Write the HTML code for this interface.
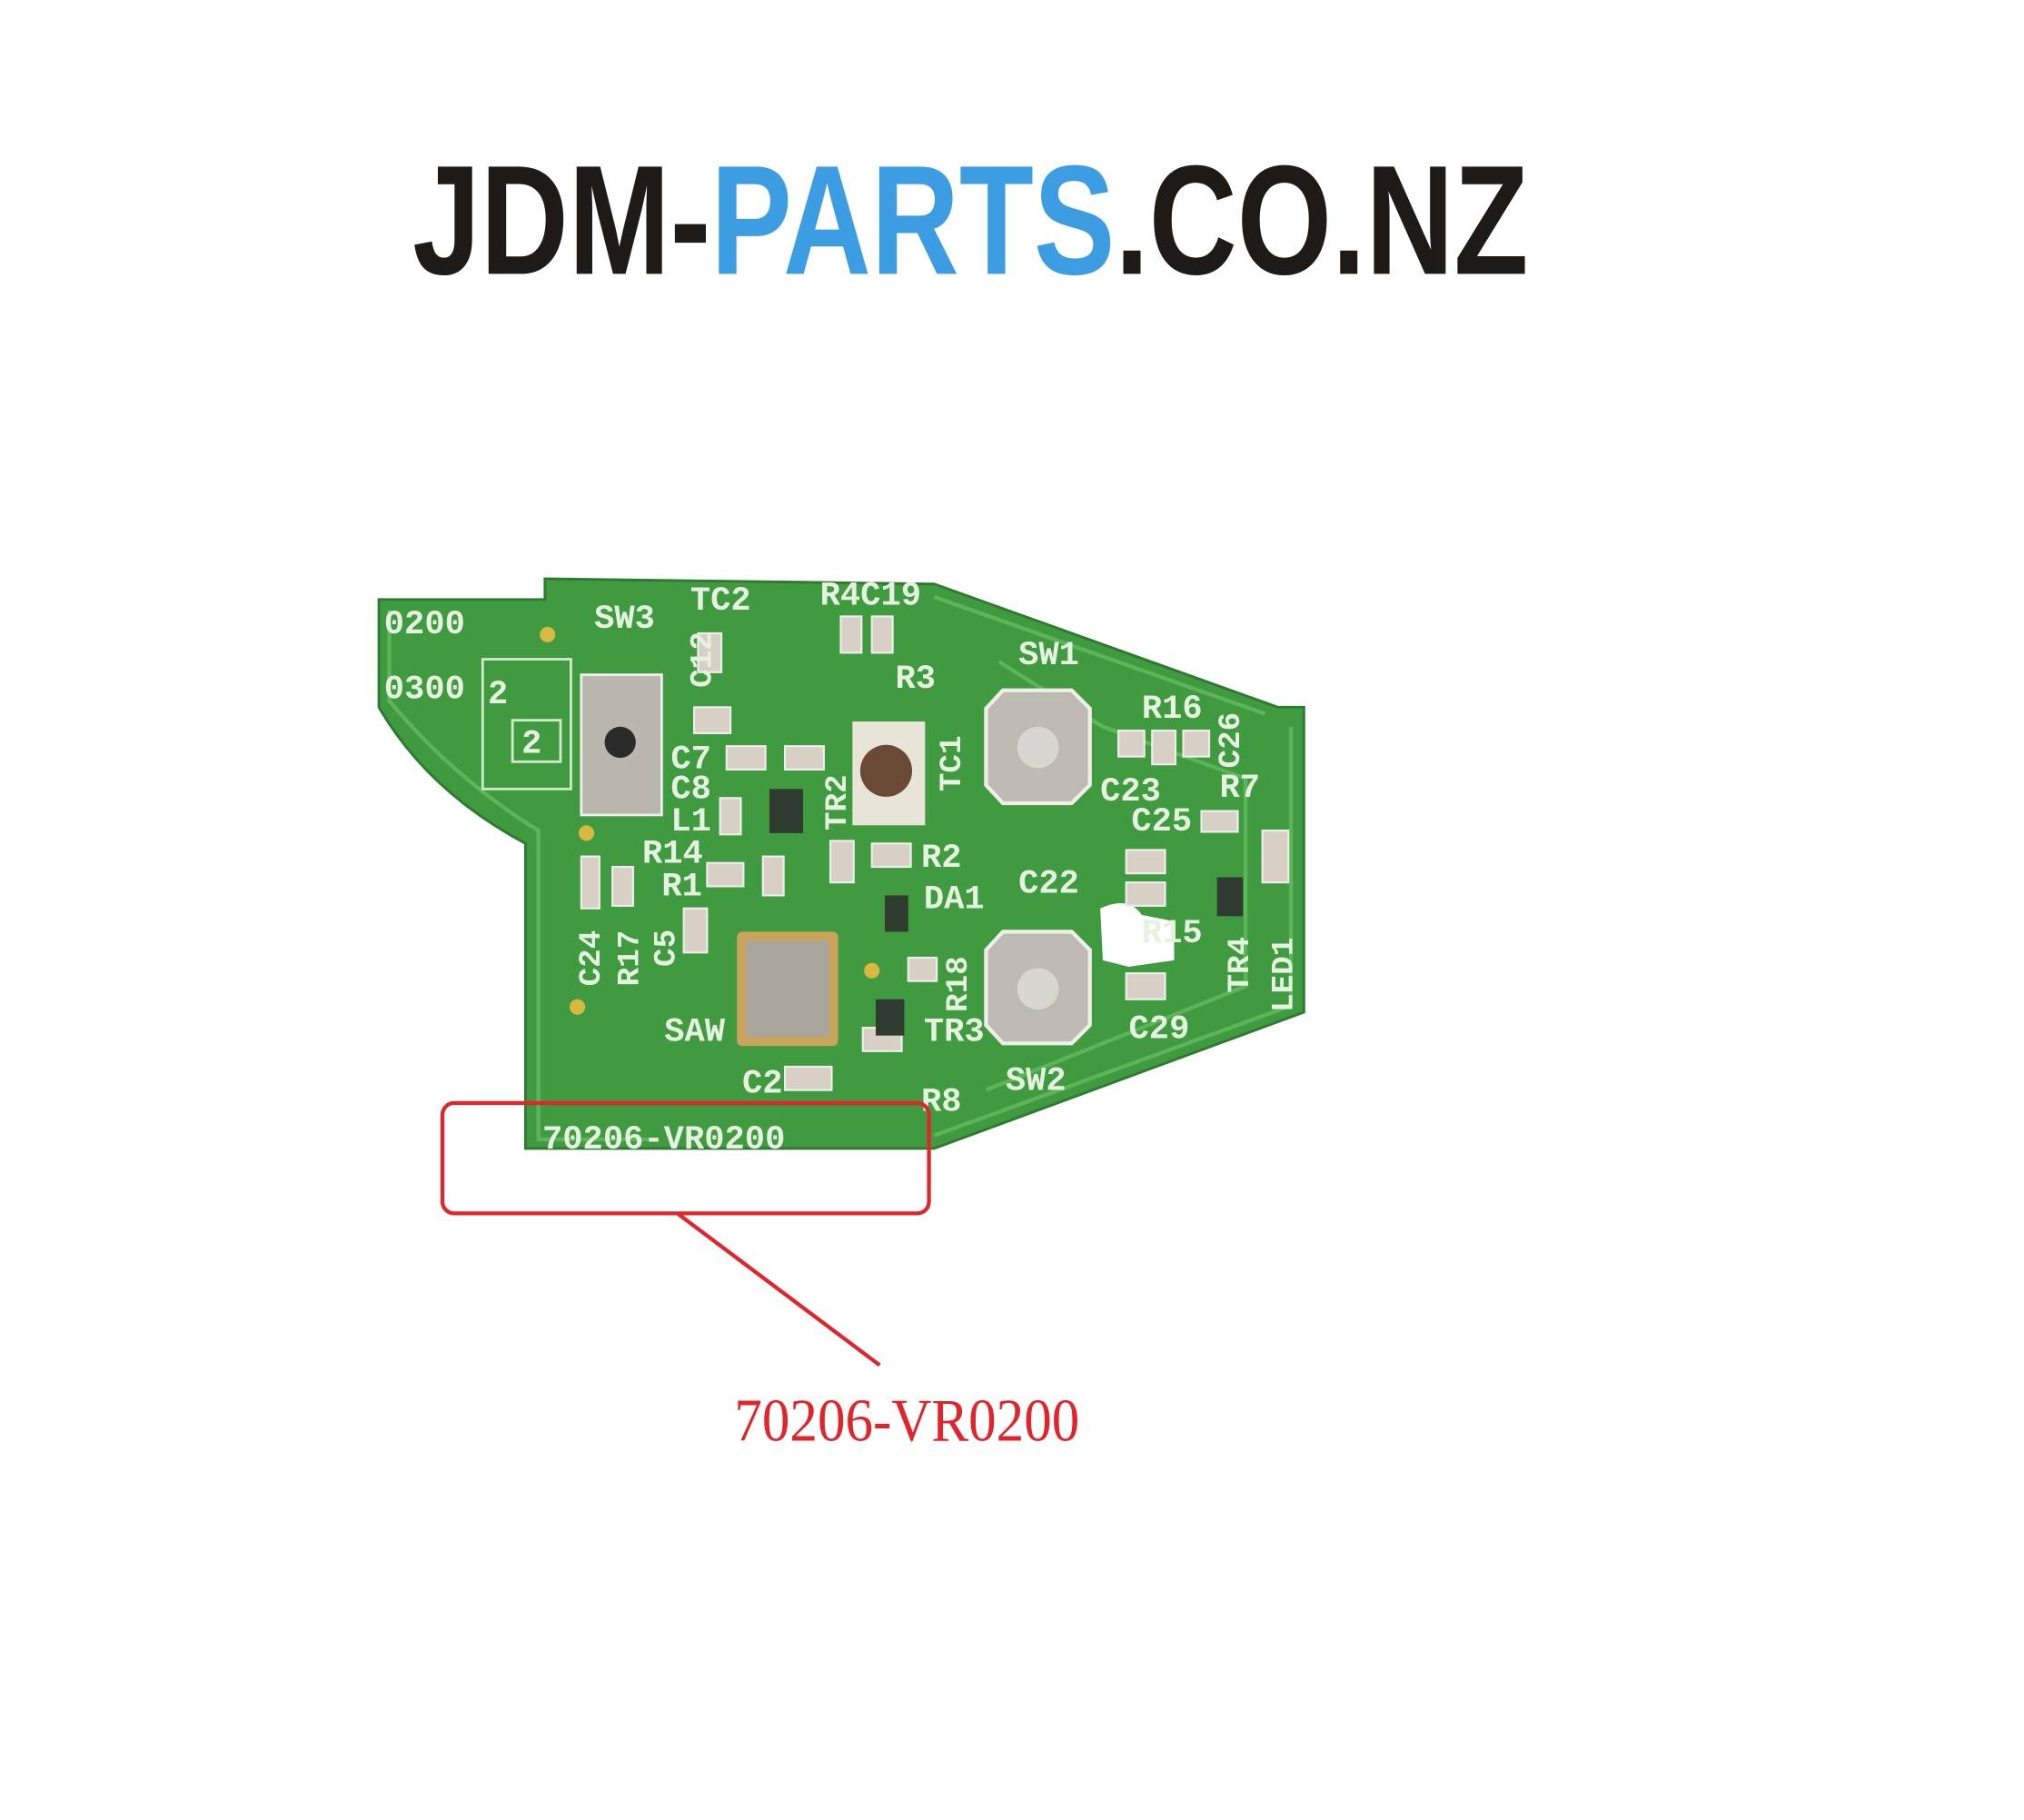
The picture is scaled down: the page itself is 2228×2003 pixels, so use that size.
<!DOCTYPE html>
<html><head><meta charset="utf-8"><style>
html,body{margin:0;padding:0;background:#fff;}
svg{display:block;}
</style></head><body>
<svg width="2228" height="2003" viewBox="0 0 1560 1402.5" xmlns="http://www.w3.org/2000/svg">
<rect width="1560" height="1402.5" fill="#fff"/>
<text x="318" y="211" font-family="Liberation Sans Narrow, Liberation Sans, sans-serif" font-weight="bold" font-size="120" textLength="860" lengthAdjust="spacingAndGlyphs" fill="#1d1a18"><tspan>JDM-</tspan><tspan fill="#3d9de2">PARTS</tspan><tspan>.CO.NZ</tspan></text>
<path d="M292,462 L420,462 L420,446 L720,450 L985,545 L1005,545 L1005,780 L720,885 L405,885 L405,650 Q330,610 292,545 Z" fill="#3f9a40" stroke="#2d7a30" stroke-width="2"/>
<path d="M300,470 L300,540 Q350,600 415,640 L415,878 L500,878" fill="none" stroke="#5db55a" stroke-width="3"/>
<path d="M720,460 L975,550 M995,560 L995,775 L720,875" fill="none" stroke="#5db55a" stroke-width="3"/>
<path d="M770,510 L850,560 L960,600 L960,760 L860,800 L760,840" fill="none" stroke="#5db55a" stroke-width="3"/>
<rect x="372" y="508" width="68" height="100" fill="none" stroke="#cfe8c8" stroke-width="2"/>
<rect x="395" y="555" width="37" height="32" fill="none" stroke="#cfe8c8" stroke-width="2"/>
<rect x="448" y="520" width="62" height="108" fill="#b9b6ad" stroke="#eee" stroke-width="2"/>
<circle cx="478" cy="572" r="12" fill="#2b2b2b"/>
<rect x="657" y="556" width="56" height="80" fill="#e8e4d8"/>
<circle cx="683" cy="594" r="20" fill="#6a4a35"/>
<g fill="#bdbab3" stroke="#f0eee8" stroke-width="3">
<path d="M773,532 L826,532 L840,546 L840,605 L826,619 L773,619 L760,605 L760,546 Z"/>
<path d="M773,718 L826,718 L840,732 L840,790 L826,804 L773,804 L760,790 L760,732 Z"/>
</g>
<circle cx="800" cy="576" r="16" fill="#d8d6d0"/><circle cx="800" cy="762" r="16" fill="#d8d6d0"/>
<path d="M848,700 Q870,690 880,705 L905,710 L905,740 L870,745 L850,740 Z" fill="#fff"/>
<rect x="568" y="718" width="78" height="88" rx="4" fill="#c9a45a"/>
<rect x="575" y="725" width="64" height="74" fill="#a8a59c"/>
<g fill="#d8d0c4" stroke="#eee" stroke-width="1.5">
<rect x="538" y="488" width="18" height="30"/><rect x="648" y="475" width="16" height="28"/><rect x="672" y="475" width="16" height="28"/>
<rect x="535" y="545" width="28" height="20"/><rect x="560" y="575" width="30" height="18"/><rect x="605" y="575" width="30" height="18"/>
<rect x="555" y="615" width="16" height="28"/><rect x="545" y="665" width="28" height="18"/><rect x="588" y="660" width="16" height="30"/>
<rect x="640" y="648" width="18" height="32"/><rect x="672" y="650" width="30" height="18"/><rect x="527" y="700" width="18" height="34"/>
<rect x="472" y="668" width="16" height="30"/><rect x="700" y="738" width="22" height="18"/><rect x="665" y="792" width="30" height="18"/>
<rect x="605" y="822" width="36" height="18"/><rect x="862" y="563" width="20" height="20"/><rect x="888" y="563" width="18" height="26"/>
<rect x="912" y="563" width="20" height="20"/><rect x="926" y="625" width="28" height="16"/><rect x="868" y="655" width="30" height="18"/>
<rect x="868" y="680" width="30" height="18"/><rect x="868" y="750" width="30" height="20"/><rect x="973" y="640" width="20" height="40"/>
<rect x="448" y="660" width="14" height="40"/>
</g>
<g fill="#2f3a30"><rect x="593" y="608" width="26" height="34"/><rect x="682" y="690" width="18" height="28"/><rect x="675" y="770" width="22" height="28"/><rect x="938" y="676" width="20" height="30"/></g>
<g fill="#d8b840"><circle cx="422" cy="489" r="6"/><circle cx="445" cy="776" r="6"/><circle cx="452" cy="642" r="6"/><circle cx="672" cy="748" r="6"/></g>
<g font-family="Liberation Mono, monospace" font-weight="bold" font-size="26" fill="#e6f2e0">
<text x="296" y="488">0200</text><text x="296" y="538">0300</text>
<text x="458" y="484">SW3</text><text x="532" y="470">TC2</text><text x="632" y="466">R4C19</text>
<text x="690" y="530">R3</text><text x="785" y="512">SW1</text><text x="880" y="553">R16</text>
<text x="517" y="592">C7</text><text x="517" y="615">C8</text><text x="517" y="640">L1</text>
<text x="848" y="617">C23</text><text x="940" y="614">R7</text><text x="872" y="640">C25</text>
<text x="495" y="665">R14</text><text x="510" y="690">R1</text><text x="710" y="668">R2</text>
<text x="785" y="688">C22</text><text x="712" y="700">DA1</text><text x="880" y="726">R15</text>
<text x="512" y="802">SAW</text><text x="712" y="802">TR3</text><text x="870" y="800">C29</text>
<text x="572" y="842">C2</text><text x="775" y="840">SW2</text><text x="710" y="856">R8</text>
<text x="418" y="885">70206-VR0200</text>
<text x="376" y="542">2</text><text x="402" y="580">2</text>
</g>
<g font-family="Liberation Mono, monospace" font-weight="bold" font-size="24" fill="#e6f2e0">
<text transform="translate(740,610) rotate(-90)">TC1</text>
<text transform="translate(652,640) rotate(-90)">TR2</text>
<text transform="translate(462,760) rotate(-90)">C24</text>
<text transform="translate(492,760) rotate(-90)">R17</text>
<text transform="translate(520,745) rotate(-90)">C5</text>
<text transform="translate(745,780) rotate(-90)">R18</text>
<text transform="translate(962,765) rotate(-90)">TR4</text>
<text transform="translate(996,780) rotate(-90)">LED1</text>
<text transform="translate(955,592) rotate(-90)">C26</text>
<text transform="translate(548,530) rotate(-90)">C12</text>
</g>
<rect x="341" y="850" width="375" height="85" rx="9" fill="none" stroke="#e0262c" stroke-width="3"/>
<line x1="522" y1="935" x2="678" y2="1052" stroke="#e0262c" stroke-width="3"/>
<text x="566" y="1110" font-family="Liberation Serif, serif" font-size="47" fill="#e0262c" textLength="266" lengthAdjust="spacingAndGlyphs">70206-VR0200</text>
</svg>
</body></html>
